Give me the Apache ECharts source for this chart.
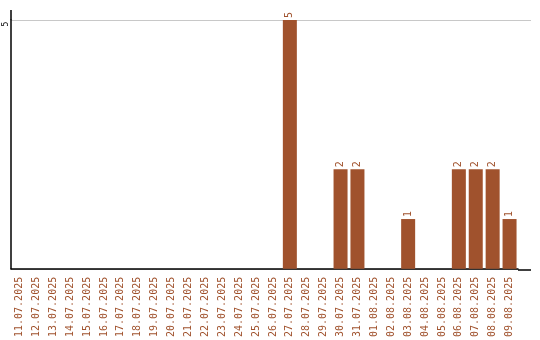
<!DOCTYPE html>
<html>
<head>
<meta charset="utf-8">
<script src="https://cdn.jsdelivr.net/npm/echarts@6/dist/echarts.min.js"></script>
<style>
  html, body { margin: 0; padding: 0; background: #fff; }
  #chart { width: 540px; height: 340px; }
</style>
</head>
<body>
<div id="chart"></div>
<script>
// Daily counts, 11.07.2025 – 09.08.2025
const dates = [
  '11.07.2025','12.07.2025','13.07.2025','14.07.2025','15.07.2025',
  '16.07.2025','17.07.2025','18.07.2025','19.07.2025','20.07.2025',
  '21.07.2025','22.07.2025','23.07.2025','24.07.2025','25.07.2025',
  '26.07.2025','27.07.2025','28.07.2025','29.07.2025','30.07.2025',
  '31.07.2025','01.08.2025','02.08.2025','03.08.2025','04.08.2025',
  '05.08.2025','06.08.2025','07.08.2025','08.08.2025','09.08.2025'
];
const counts = [
  0,0,0,0,0,
  0,0,0,0,0,
  0,0,0,0,0,
  0,5,0,0,2,
  2,0,0,1,0,
  0,2,2,2,1
];
const yTicks = [5];

const BAR = '#A0522D';
const TEXT = '#A0522D';
const MONO = '"DejaVu Sans Mono", "Liberation Mono", monospace';

const chart = echarts.init(document.getElementById('chart'), null, { renderer: 'canvas' });

const gridLeft = 11, gridTop = 20, gridBottom = 70, gridWidth = 507;
const axisEndX = 531, axisTopY = 10;

chart.setOption({
  animation: false,
  grid: { left: gridLeft, top: gridTop, width: gridWidth, bottom: gridBottom, containLabel: false },
  xAxis: {
    type: 'category',
    data: dates,
    axisLine: { lineStyle: { color: '#000', width: 1.5 } },
    axisTick: { show: false },
    axisLabel: {
      interval: 0,
      rotate: 90,
      color: TEXT,
      fontFamily: MONO,
      fontSize: 10,
      margin: 8
    },
    splitLine: { show: false }
  },
  yAxis: {
    type: 'value',
    min: 0,
    max: 5,
    interval: 5,
    axisLine: { show: true, lineStyle: { color: '#000', width: 1.5 } },
    axisTick: { show: false },
    axisLabel: {
      rotate: 90,
      align: 'center',
      padding: [0, 8, 0, 0],
      color: '#000',
      fontFamily: MONO,
      fontSize: 8,
      margin: 1,
      formatter: v => (yTicks.indexOf(v) >= 0 ? String(v) : '')
    },
    splitLine: { show: true, lineStyle: { color: '#c8c8c8', width: 1 } }
  },
  series: [{
    type: 'bar',
    data: counts,
    barWidth: 14,
    itemStyle: { color: BAR },
    label: {
      show: true,
      position: 'top',
      rotate: 90,
      align: 'left',
      verticalAlign: 'middle',
      distance: 2,
      color: TEXT,
      fontFamily: MONO,
      fontSize: 10,
      formatter: p => (p.value > 0 ? String(p.value) : '')
    }
  }],
  graphic: [
    // axis and top gridline overshoot past the plot edge
    { type: 'line', shape: { x1: gridLeft + gridWidth, y1: 270, x2: axisEndX, y2: 270 },
      style: { stroke: '#000', lineWidth: 1.5 } },
    { type: 'line', shape: { x1: gridLeft + gridWidth, y1: gridTop + 0.5, x2: axisEndX, y2: gridTop + 0.5 },
      style: { stroke: '#c8c8c8', lineWidth: 1 } },
    { type: 'line', shape: { x1: gridLeft, y1: gridTop, x2: gridLeft, y2: axisTopY },
      style: { stroke: '#000', lineWidth: 1.5 } }
  ]
});
</script>
</body>
</html>
